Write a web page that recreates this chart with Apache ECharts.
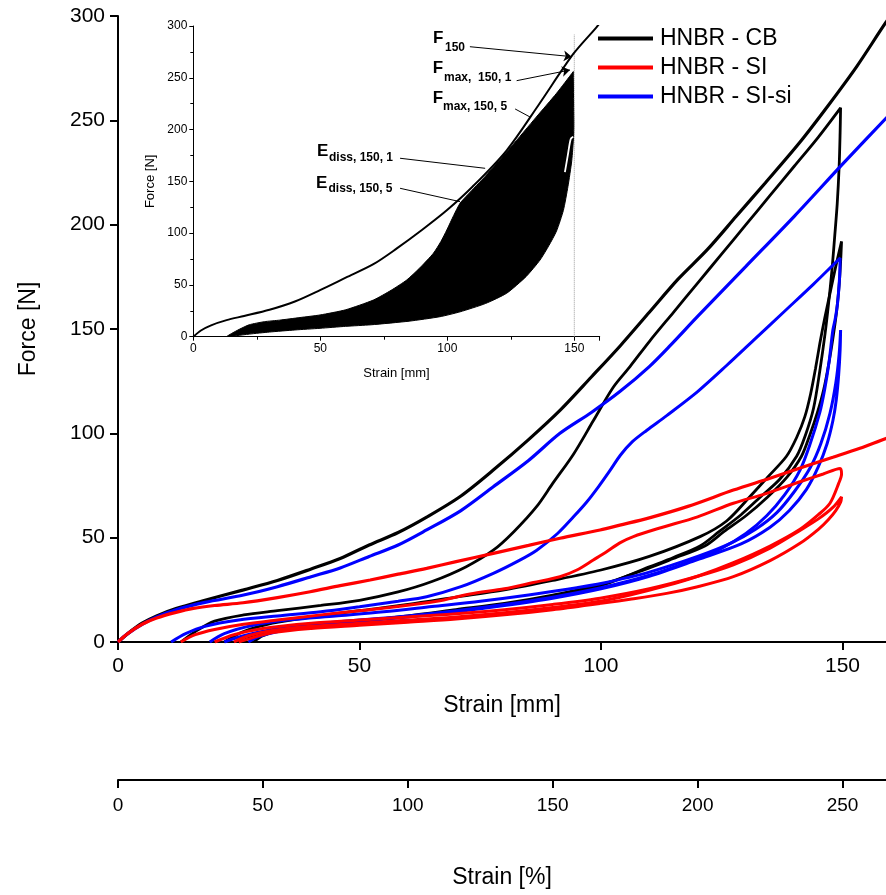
<!DOCTYPE html>
<html><head><meta charset="utf-8">
<script src="https://cdn.jsdelivr.net/npm/echarts@6/dist/echarts.min.js"></script>
<style>html,body{margin:0;padding:0;background:#fff}#c{width:886px;height:895px}</style>
</head><body><div id="c"></div>
<script>
// ---------- data (Strain [mm], Force [N]) ----------
const seriesNames = ['HNBR - CB', 'HNBR - SI', 'HNBR - SI-si'];
const mmTicks = [0, 50, 100, 150];
const pctTicks = [0, 50, 100, 150, 200, 250];

const cbVirgin = [[0,0],[2,4],[5,9],[8,12.5],[12,16],[18,20],[26,25],[33,29.5],[40,35],[46,40],[52,46.5],[58,52.5],[64,60],[71,70],[78,83],[85,97],[91.5,111],[98,127],[104,142],[110,158],[116,174],[122,188],[128,204],[134,220],[141,239],[147,257],[153,276],[159,297],[161,303]];
const cbLoop1 = [[13,0],[16,5],[20,10],[26,13],[33,15],[42,17.5],[50,20],[58,24],[65,29],[72,36],[77.7,44],[82,53],[86.7,65],[90,76],[94.3,90],[98.4,106],[102.5,122],[106,132],[110,144],[115,158],[120,172],[125,186],[130,200],[135,214],[140,228],[145,242],[149.6,256],
  [149.5,244],[149.3,228],[148.9,210],[148.4,195],[147.8,178],[147.1,162],[146.4,148],[145.3,130],[144,112],[142.3,99],[140.5,89],[137,78],[133,69.5],[129,61],[124.5,53],[120.5,46],[115,40.5],[110,36],[100,27],[90,22],[80,18],[70,15],[60,12.3],[50,10],[40,8],[33,5.5],[28,2.5],[25,0]];
const cbLoop5 = [[22,0],[26,5],[32,9],[40,12],[50,15],[60,18],[70,21.5],[80,25],[90,29.5],[100,34.5],[110,41],[120.5,50.5],[126,58],[130.8,69.6],[134.5,79],[138.4,89],[140.5,98],[142.2,108],[143.4,119],[144.4,131],[145.3,143],[146.3,155],[147.4,167],[148.6,180],[149.8,192],
  [149.6,182],[149.3,171],[148.8,159],[148.1,147],[147.2,134],[146.1,121],[144.8,110],[143.2,99],[141.5,89],[138.5,79],[134.5,69.5],[130,60.5],[125.5,53],[121.5,46],[115,40],[110,35.5],[100,27.5],[90,22.5],[80,18.5],[70,15.5],[60,12.5],[50,10],[40,8],[34,6],[30,3],[28,0]];

const siVirgin = [[0,0],[2,4],[5,8.5],[8,11.5],[12,14.2],[15.6,16.1],[20,17.5],[25.9,18.8],[33,21.3],[39.8,24.1],[46,27],[52.2,29.7],[58,32.5],[63.9,35.3],[70,38.5],[77.7,42.5],[85,46.3],[91.5,49.7],[99.8,53.7],[103.9,56],[110,59.5],[118,65],[127.4,72.8],[135,78.5],[142,84],[148,88.5],[153.6,92.8],[159,97.5],[161,99]];
const siLoop1 = [[13,0],[16,3.5],[20,6],[26,8.5],[33,10.5],[42,13],[50,15],[58,17],[66,19.5],[72.9,23],[80,25.5],[86,28.5],[91.5,31.3],[95,34.5],[98.4,39.3],[101,43],[103.9,47.5],[106.7,50.5],[112,54.5],[120,60],[127.4,66.5],[134,71],[141.2,76.8],[146,80.5],[149.5,83.2],
  [149.8,80.5],[149.2,76],[147.4,66.5],[145,61],[141.2,54],[135,46],[127.4,38],[120,31.5],[113.6,27],[106,22.5],[99.8,19.5],[90,16.5],[80,14],[70,12],[60,10.5],[50,9],[40,7.5],[32,5.5],[27,3],[24,0]];
const siLoop5 = [[20,0],[24,3.5],[30,6.5],[40,9],[50,10.5],[60,12],[70,13.5],[80,15.5],[90,18],[99.8,21],[110,25.5],[120,31.5],[127.4,37],[135,45],[141.2,53.5],[145,59],[148,64.5],[149.8,69.6],
  [149.6,67],[148.6,63],[147,58.5],[145,54],[141.2,47.3],[135,39],[127.4,31.3],[120,26.5],[113.6,23.3],[106,20.5],[99.8,18.5],[90,15.5],[80,13],[70,11],[60,9.5],[50,8],[40,6.5],[32,4.5],[27,1.5],[25,0]];

const sisiVirgin = [[0,0],[2,4],[5,8.5],[8,12],[12,15.5],[18,19],[26,22.5],[33,26.5],[40,31.3],[46,35.5],[52,41],[58,46.5],[63.9,53.7],[71,63],[77.7,74.4],[85,87],[91.5,100],[98,110],[103.9,120],[110,132],[114.3,142],[120,156],[130,180],[140,204],[150,229],[159,251],[161,256]];
const sisiLoop1 = [[11,0],[14,4],[18,7.5],[25,10.5],[33,12.5],[42,14.5],[50,16.9],[58,19.5],[63.9,21.7],[71,26.5],[77.7,32.9],[83,39],[86.7,44],[91,52],[94.3,60],[97,67],[99.5,74.5],[101.8,82],[104,89.5],[106.5,96],[109.5,101.5],[113.6,108.5],[120,120],[126,132.5],[132,145.5],[138,158.5],[144,171.5],[149.5,184],
  [149.4,175],[149,163],[148.5,155],[148,149.5],[147.2,134],[146.3,121],[145.3,110],[143.3,95],[141.2,82.4],[138,70.5],[134.3,60.5],[130,52],[125,45],[120,40],[110,32],[100,26],[90,21.5],[80,18],[70,15],[60,12.5],[50,10.5],[40,8.5],[32,6],[26,3],[22,0]];
const sisiLoop5 = [[19,0],[22,4],[28,8],[35,10.5],[45,12.5],[55,14.5],[65,17],[75,19.5],[85,22.5],[95,26],[100,28],[110,33.5],[120,41],[127,47.5],[132,54],[136.4,62],[140,72],[143.3,83.5],[145.5,95],[147.4,109.6],[148.6,124],[149.3,138],[149.6,149.5],
  [149.5,140],[149.2,128],[148.7,116],[148,106],[146.8,95],[145,84],[142.5,73],[139,63],[135,55],[129,47],[120,39.5],[110,31.5],[100,25.5],[90,21],[80,17.5],[70,14.5],[60,12],[50,10],[40,8],[34,5.5],[29,2.5],[27,0]];

// inset (HNBR - CB, cycles to 150 mm)
const insetVirgin = [[0,0],[3,6],[7,11],[13.1,16],[20,20],[30,26],[40,34],[49.9,45],[60,57],[70.9,70],[80,85],[90,103],[99.8,122],[110,145],[123.4,180],[136,224],[149.6,273],[158.8,299],[161,306]];
const insetUpper = [[13,0],[15,3],[18,7],[22,11.5],[28,14.5],[34,16],[42,18.5],[49.9,21],[60,26],[70.9,35.4],[78,45],[84,54.7],[89,66],[94.5,80.5],[97.5,92],[99.8,103],[102.5,117],[105,128.8],[108,137],[115,155],[125,183],[135,212],[143,235],[149.6,256]];
const insetLower = [[149.6,256],[149.7,230],[149.8,205],[149.7,193],[149,170],[147.5,145],[145.7,122],[143,102],[140,88],[136.5,74],[131,58],[123.4,42],[115,32],[105,24],[97.1,19.3],[85,15],[70,11.5],[60,10],[49.9,8.1],[40,6.5],[30,4.5],[22,2.5],[17,1],[13.1,0]];
const insetGap = [[149.6,193],[148.6,191],[147.5,176],[146.3,159]];
const insetRef150 = [[150,0],[150,292]];
// annotation leader lines (inset data coordinates)
const arrowF150 = [[108.9,280],[149,270.4]];
const arrowFmax1 = [[127.3,247.2],[148.3,257.5]];
const leadFmax5 = [[126.7,219.9],[132.6,212.1]];
const leadEdiss1 = [[81.4,172.3],[114.9,162.6]];
const leadEdiss5 = [[81.4,143.3],[105,130.4]];

// ---------- chart ----------
const FONT = '"Liberation Sans", Arial, sans-serif';
const COL = {'HNBR - CB':'#000000','HNBR - SI':'#ff0000','HNBR - SI-si':'#0000ff'};
const X_MAX = 159;           // main plot right edge (mm)
const chart = echarts.init(document.getElementById('c'), null, {renderer:'canvas'});

function mainLine(name, data, w) {
  return {name, type:'line', xAxisIndex:0, yAxisIndex:0, data, symbol:'none', showSymbol:false, smooth:0.3,
    lineStyle:{color:COL[name], width:w||3}, itemStyle:{color:COL[name]}, silent:true, z:2, clip:true};
}
function insetLine(data, color, w, type, z, smooth) {
  return {type:'line', xAxisIndex:1, yAxisIndex:1, data, symbol:'none', showSymbol:false, smooth:smooth||false,
    lineStyle:{color, width:w, type:type||'solid'}, silent:true, z:z||5, clip:true};
}
const mlPair = (pts, arrow) => [{coord:pts[0], symbol:'none'}, {coord:pts[1], symbol: arrow ? 'arrow' : 'none', symbolSize: arrow ? 8 : 0}];

const axisBase = (fs, ticks) => ({
  axisLine:{show:true, onZero:false, lineStyle:{color:'#000', width:2}},
  axisTick:{show:true, inside:false, length:8, customValues:ticks, lineStyle:{color:'#000', width:2}},
  splitLine:{show:false},
  nameTextStyle:{color:'#000', fontFamily:FONT}
});

const virginInset = insetLine(insetVirgin, '#000', 2, 'solid', 5, 0.3);
virginInset.markLine = {
  silent:true, animation:false, symbol:['none','none'],
  lineStyle:{color:'#000', width:1, type:'solid'}, label:{show:false},
  emphasis:{disabled:true},
  data:[mlPair(arrowF150, true), mlPair(arrowFmax1, true), mlPair(leadFmax5, false), mlPair(leadEdiss1, false), mlPair(leadEdiss5, false)]
};

const option = {
  animation:false,
  backgroundColor:'#fff',
  grid:[
    {left:118, top:16, width:768, height:626},
    {left:193.3, top:26, width:406.4, height:310.7},
    {left:118, top:700, width:768, height:80}
  ],
  xAxis:[
    Object.assign(axisBase(21, mmTicks), {type:'value', gridIndex:0, min:0, max:X_MAX, interval:50,
      name:'Strain [mm]', nameLocation:'middle', nameGap:52, nameTextStyle:{fontSize:23, color:'#000', fontFamily:FONT},
      axisLabel:{color:'#000', fontSize:21, fontFamily:FONT, margin:14, customValues:mmTicks, formatter:v => mmTicks.includes(v) ? String(v) : ''}}),
    {type:'value', gridIndex:1, min:0, max:160, interval:50,
      axisLine:{show:true, onZero:false, lineStyle:{color:'#000', width:1}},
      axisTick:{show:true, length:4, lineStyle:{color:'#000', width:1}},
      minorTick:{show:true, splitNumber:2, length:3, lineStyle:{color:'#000', width:1}},
      axisLabel:{color:'#000', fontSize:12, fontFamily:FONT, margin:6, formatter:v => mmTicks.includes(v) ? String(v) : ''},
      splitLine:{show:false}, minorSplitLine:{show:false},
      name:'Strain [mm]', nameLocation:'middle', nameGap:30, nameTextStyle:{fontSize:13, color:'#000', fontFamily:FONT}},
    Object.assign(axisBase(19, pctTicks), {type:'value', gridIndex:2, min:0, max:X_MAX*5/3, interval:50, position:'bottom',
      name:'Strain [%]', nameLocation:'middle', nameGap:86, nameTextStyle:{fontSize:23, color:'#000', fontFamily:FONT},
      axisLabel:{color:'#000', fontSize:19, fontFamily:FONT, margin:16, customValues:pctTicks, formatter:v => pctTicks.includes(v) ? String(v) : ''}})
  ],
  yAxis:[
    Object.assign(axisBase(21), {type:'value', gridIndex:0, min:0, max:300, interval:50,
      name:'Force [N]', nameLocation:'middle', nameGap:78, nameRotate:90, nameTextStyle:{fontSize:23, color:'#000', fontFamily:FONT},
      axisTick:{show:true, inside:false, length:8, lineStyle:{color:'#000', width:2}},
      axisLabel:{color:'#000', fontSize:21, fontFamily:FONT, margin:13}}),
    {type:'value', gridIndex:1, min:0, max:300, interval:50,
      axisLine:{show:true, onZero:false, lineStyle:{color:'#000', width:1}},
      axisTick:{show:true, length:4, lineStyle:{color:'#000', width:1}},
      minorTick:{show:true, splitNumber:2, length:3, lineStyle:{color:'#000', width:1}},
      axisLabel:{color:'#000', fontSize:12, fontFamily:FONT, margin:6},
      splitLine:{show:false}, minorSplitLine:{show:false},
      name:'Force [N]', nameLocation:'middle', nameGap:36, nameRotate:90, nameTextStyle:{fontSize:13, color:'#000', fontFamily:FONT}},
    {type:'value', gridIndex:2, min:0, max:1, show:false}
  ],
  legend:{
    orient:'vertical', left:593, top:22, itemWidth:55, itemHeight:4, itemGap:6,
    textStyle:{fontSize:23, color:'#000', fontFamily:FONT, padding:[0,0,0,2]},
    data:seriesNames.map(n => ({name:n, icon:'rect', itemStyle:{color:COL[n]}}))
  },
  series:[
    mainLine('HNBR - CB', cbVirgin, 3.2),
    mainLine('HNBR - CB', cbLoop1, 2.8),
    mainLine('HNBR - CB', cbLoop5, 2.8),
    mainLine('HNBR - SI-si', sisiVirgin, 3.2),
    mainLine('HNBR - SI-si', sisiLoop1, 3),
    mainLine('HNBR - SI-si', sisiLoop5, 3),
    mainLine('HNBR - SI', siVirgin, 3.2),
    mainLine('HNBR - SI', siLoop1, 3),
    mainLine('HNBR - SI', siLoop5, 3),
    {type:'custom', xAxisIndex:1, yAxisIndex:1, data:[[0,0]], silent:true, z:4, clip:true,
      renderItem:(params, api) => ({type:'polygon',
        shape:{points: insetUpper.concat(insetLower).map(p => api.coord(p)), smooth:0.2},
        style:{fill:'#000', stroke:'#000', lineWidth:1}})},
    insetLine(insetRef150, '#9a9a9a', 1, 'dotted', 3),
    insetLine(insetGap, '#ffffff', 1.8, 'solid', 6, 0.3),
    virginInset,
    {type:'line', xAxisIndex:2, yAxisIndex:2, data:[], silent:true}
  ]
};

const ann = [
  ['F', 433, 38.3, 17], ['150', 445, 48, 12],
  ['F', 432.7, 68.3, 17], ['max,  150, 1', 444, 78, 12],
  ['F', 432.7, 98.7, 17], ['max, 150, 5', 443, 106.7, 12],
  ['E', 317, 151.7, 17], ['diss, 150, 1', 329, 157.2, 12],
  ['E', 316, 183.3, 17], ['diss, 150, 5', 328.5, 188.3, 12]
];
option.graphic = ann.map(a => ({type:'text', x:a[1], y:a[2], silent:true, z:50,
  style:{text:a[0], fill:'#000', font:'bold ' + a[3] + 'px ' + FONT, align:'left', verticalAlign:'middle', textAlign:'left', textVerticalAlign:'middle'}}));

chart.setOption(option);
</script></body></html>
